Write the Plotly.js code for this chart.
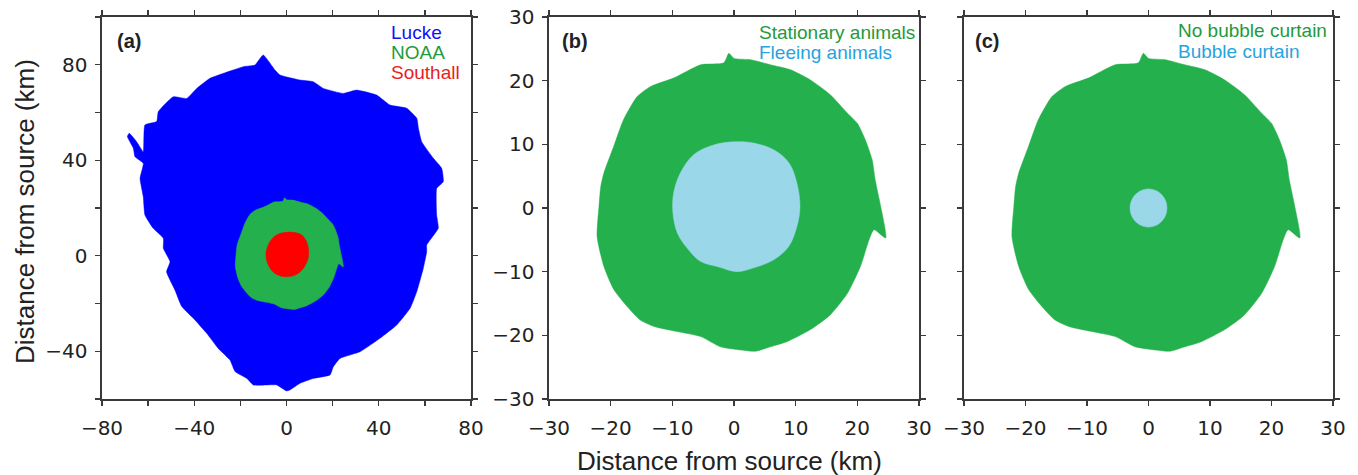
<!DOCTYPE html>
<html>
<head>
<meta charset="utf-8">
<script src="https://cdn.plot.ly/plotly-3.0.1.min.js"></script>
<style>
html,body{margin:0;padding:0;background:#fff;}
#chart{width:1358px;height:475px;}
</style>
</head>
<body>
<div id="chart"></div>
<script>
// ---- Data (km from source) ----
// Lucke threshold zone (panel a)
const luckeX = [-10.1,-5.0,-2.8,5.9,11.6,16.0,24.6,30.4,39.1,44.9,52.1,56.5,57.2,58.6,63.7,67.3,68.0,65.1,65.1,65.8,60.8,60.8,59.3,56.5,53.6,47.8,40.5,31.9,23.2,20.3,18.9,11.6,5.9,1.5,0.0,-4.3,-8.6,-14.4,-17.3,-22.3,-24.5,-29.6,-34.6,-39.7,-45.4,-48.4,-52.0,-50.5,-53.4,-53.4,-57.8,-61.4,-62.1,-63.5,-62.1,-65.7,-66.4,-69.0,-68.2,-65.0,-62.1,-61.4,-56.3,-55.6,-49.1,-43.3,-38.9,-33.2,-27.4,-18.7,-13.7];
const luckeY = [84.1,77.8,75.7,73.6,72.9,70.1,68.0,69.4,67.3,63.1,61.8,57.6,53.4,47.8,40.8,36.6,31.0,28.2,17.1,11.5,4.5,1.7,-5.3,-15.0,-22.0,-29.0,-34.6,-40.2,-43.0,-46.5,-49.9,-51.4,-53.4,-56.2,-56.6,-54.1,-54.1,-54.1,-51.3,-48.5,-43.7,-38.8,-32.5,-26.9,-21.3,-14.3,-6.7,-2.5,3.1,7.3,11.5,17.1,24.7,32.4,38.7,41.5,45.0,49.9,51.3,47.8,43.6,54.8,56.2,60.3,66.6,65.9,70.1,74.3,76.4,79.2,79.9];
// NOAA / Stationary animals / No bubble curtain zone (same contour in all panels)
const stationaryX = [-0.84,-1.65,-5.4,-9.8,-13.5,-15.7,-17.9,-19.5,-21.1,-21.6,-21.9,-22.2,-21.1,-19.5,-17.3,-15.2,-13.0,-9.2,-5.4,-2.2,1.05,3.5,5.9,8.6,12.4,15.6,18.4,20.5,21.9,22.7,24.6,23.8,22.9,22.4,21.3,20.0,18.4,15.6,12.4,9.2,5.9,2.7,0.0];
const stationaryY = [24.3,22.8,22.5,20.4,19.1,17.5,13.9,9.7,5.5,3.4,0.2,-4.5,-9.2,-12.8,-15.5,-17.6,-18.6,-19.4,-20.2,-21.8,-22.3,-22.5,-21.8,-21.0,-19.1,-16.8,-13.4,-9.2,-5.0,-3.4,-4.7,0.2,4.4,7.6,10.7,13.3,14.9,17.8,20.1,21.7,22.5,23.3,23.5];
// Southall zone (panel a)
const southallX = [-0.1,-4.3,-7.2,-8.9,-7.9,-5.0,-0.7,3.7,7.3,9.5,9.0,6.6,2.9];
const southallY = [9.8,8.7,5.9,1.0,-3.9,-7.4,-8.8,-8.1,-5.3,-0.4,5.2,8.7,9.8];
// Fleeing animals zone (panel b)
const fleeingX = [0.0,-3.3,-6.5,-8.7,-9.8,-9.9,-9.2,-7.6,-5.4,-2.7,0.5,3.2,6.5,8.9,10.2,10.7,10.2,8.9,6.5,3.2];
const fleeingY = [10.4,9.9,8.4,5.5,2.3,-0.8,-3.9,-6.3,-8.4,-9.2,-10.0,-9.4,-8.1,-6.0,-2.9,0.2,3.9,7.1,9.1,10.2];
// Bubble curtain zone (panel c)
const bubbleX = [0.0,1.5,2.6,3.0,2.6,1.5,0.0,-1.5,-2.6,-3.0,-2.6,-1.5];
const bubbleY = [3.0,2.6,1.5,0.0,-1.5,-2.6,-3.0,-2.6,-1.5,0.0,1.5,2.6];

// Tick values / labels
const aXTicks = [-80,-60,-40,-20,0,20,40,60,80];
const aXLabels = ['\u221280','','\u221240','','0','','40','','80'];
const aYTicks = [-60,-40,-20,0,20,40,60,80,100];
const aYLabels = ['','\u221240','','0','','40','','80',''];
const bTicks = [-30,-20,-10,0,10,20,30];
const bLabels = ['\u221230','\u221220','\u221210','0','10','20','30'];

// Legend labels
const legendA = ['Lucke','NOAA','Southall'];
const legendB = ['Stationary animals','Fleeing animals'];
const legendC = ['No bubble curtain','Bubble curtain'];

// ---- Styling ----
const BLUE = '#0000ff', GREEN = '#24b04c', RED = '#ff0000', LBLUE = '#9ad7e9';
const W = 1358, H = 475;

function poly(x, y, color, xa, ya, smooth) {
  return {x: x.concat([x[0]]), y: y.concat([y[0]]), xaxis: xa, yaxis: ya,
    type: 'scatter', mode: 'lines', fill: 'toself', fillcolor: color,
    line: {color: color, width: 0.5, shape: 'spline', smoothing: smooth},
    hoverinfo: 'skip', showlegend: false};
}

const traces = [
  poly(luckeX, luckeY, BLUE, 'x', 'y', 0.4),
  poly(stationaryX, stationaryY, GREEN, 'x', 'y', 0.6),
  poly(southallX, southallY, RED, 'x', 'y', 1.0),
  poly(stationaryX, stationaryY, GREEN, 'x2', 'y2', 0.6),
  poly(fleeingX, fleeingY, LBLUE, 'x2', 'y2', 1.0),
  poly(stationaryX, stationaryY, GREEN, 'x3', 'y3', 0.6),
  poly(bubbleX, bubbleY, LBLUE, 'x3', 'y3', 1.0)
];

const tickFont = {family: 'DejaVu Sans, sans-serif', size: 20, color: '#222'};
function axis(domain, range, vals, texts, showLabels, anchor, isX) {
  return {domain: domain, range: range, anchor: anchor, tickmode: 'array',
    tickvals: vals, ticktext: texts, showticklabels: showLabels,
    ticks: 'outside', ticklen: 5, tickwidth: 1.3, tickcolor: '#3a3a3a',
    showline: true, linecolor: '#3a3a3a', linewidth: 1.6, mirror: 'ticks',
    showgrid: false, zeroline: false, fixedrange: true,
    tickfont: tickFont, ticklabelstandoff: isX ? 5 : 4};
}
const yDom = [(H - 399) / H, (H - 17) / H];
const dA = [102 / W, 471 / W], dB = [549 / W, 919 / W], dC = [964 / W, 1333 / W];

const ann = [];
function txt(px, py, text, color, size, bold, anchor) {
  ann.push({xref: 'paper', yref: 'paper', x: px / W, y: (H - py) / H,
    xanchor: anchor || 'left', yanchor: 'middle', showarrow: false,
    text: bold ? '<b>' + text + '</b>' : text,
    font: {family: 'Liberation Sans, Arial, sans-serif', size: size, color: color}});
}
txt(115, 41, '(a)', '#222', 20, true);
txt(560, 41, '(b)', '#222', 20, true);
txt(973, 41, '(c)', '#222', 20, true);
txt(389, 32, legendA[0], '#1010f5', 19);
txt(389, 53, legendA[1], '#1f9a3c', 19);
txt(389, 73, legendA[2], '#ea1c24', 19);
txt(757, 32, legendB[0], '#1f9a3c', 19);
txt(757, 53, legendB[1], '#27a3dd', 19);
txt(1176, 31, legendC[0], '#1f9a3c', 19);
txt(1176, 52, legendC[1], '#27a3dd', 19);
// axis titles
txt(729, 461, 'Distance from source (km)', '#222', 26, false, 'center');
ann.push({xref: 'paper', yref: 'paper', x: 25 / W, y: (H - 212) / H, xanchor: 'center', yanchor: 'middle',
  showarrow: false, textangle: -90, text: 'Distance from source (km)',
  font: {family: 'Liberation Sans, Arial, sans-serif', size: 26, color: '#222'}});

const layout = {
  width: W, height: H, margin: {l: 0, r: 0, t: 0, b: 0},
  paper_bgcolor: '#fff', plot_bgcolor: '#fff', showlegend: false,
  xaxis: axis(dA, [-80, 80], aXTicks, aXLabels, true, 'y', true),
  yaxis: axis(yDom, [-60, 100], aYTicks, aYLabels, true, 'x', false),
  xaxis2: axis(dB, [-30, 30], bTicks, bLabels, true, 'y2', true),
  yaxis2: axis(yDom, [-30, 30], bTicks, bLabels, true, 'x2', false),
  xaxis3: axis(dC, [-30, 30], bTicks, bLabels, true, 'y3', true),
  yaxis3: axis(yDom, [-30, 30], bTicks, bLabels, false, 'x3', false),
  annotations: ann
};

Plotly.newPlot('chart', traces, layout, {staticPlot: true, displayModeBar: false});
</script>
</body>
</html>
